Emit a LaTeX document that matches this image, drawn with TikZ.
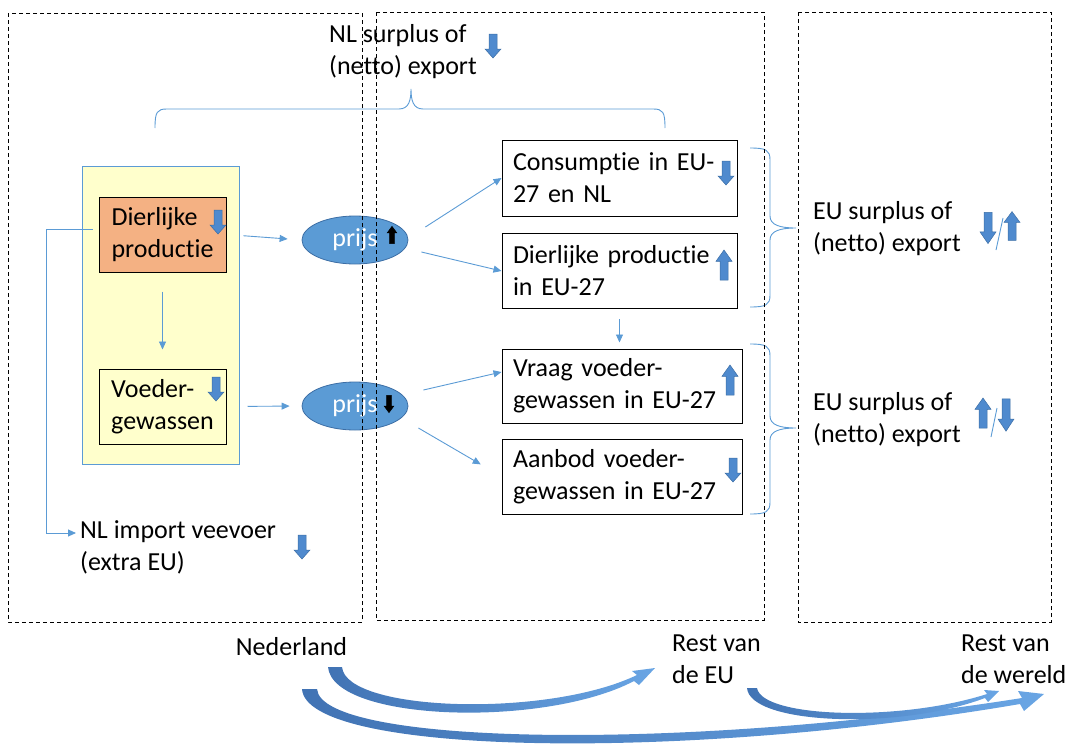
\documentclass[tikz,border=0pt]{standalone}
\usepackage{fontspec}
\setmainfont[Ligatures=NoCommon]{Carlito}
\usetikzlibrary{arrows.meta,shapes.geometric,calc}

\definecolor{lijnblauw}{RGB}{91,155,213}
\definecolor{pijlblauw}{RGB}{79,138,206}
\definecolor{pijlrand}{RGB}{60,110,165}
\definecolor{geel}{RGB}{255,255,204}
\definecolor{oranje}{RGB}{244,177,131}
\definecolor{boogdonker}{RGB}{65,115,180}
\definecolor{booglicht}{RGB}{105,165,228}

\tikzset{
  gebied/.style={draw=black, dash pattern=on 4pt off 3pt, line width=0.9pt},
  kader/.style={draw=black, line width=1pt, inner xsep=11pt, inner ysep=0pt, align=left},
  verbinding/.style={draw=lijnblauw, line width=0.9pt, -{Triangle[length=8pt,width=7pt]}},
  accolade/.style={draw=lijnblauw, line width=0.9pt},
  prijsbol/.style={ellipse, fill=lijnblauw, draw=pijlrand, line width=0.8pt, minimum width=106pt, minimum height=48pt, inner sep=0pt, text=white},
  tekst/.style={inner sep=0pt, align=left},
  icoon/.style={fill=pijlblauw, draw=pijlrand, line width=0.5pt},
  boog/.style={left color=boogdonker, right color=booglicht, draw=none}
}

% blokpijltjes
\newcommand{\pijlneer}[2][]{\filldraw[icoon, shift={#2}, #1] (-4,-12) -- (4,-12) -- (4,3) -- (8,3) -- (0,12) -- (-8,3) -- (-4,3) -- cycle;}
\newcommand{\pijlop}[2][]{\filldraw[icoon, shift={#2}, yscale=-1, #1] (-4,-12) -- (4,-12) -- (4,3) -- (8,3) -- (0,12) -- (-8,3) -- (-4,3) -- cycle;}

\begin{document}
\begin{tikzpicture}[x=1pt, y=-1pt, font=\fontsize{26}{32}\selectfont]
    \useasboundingbox (0,0) rectangle (1070,744);

    %Nederland
    \node[draw=lijnblauw, fill=geel, line width=1pt, minimum width=157pt, minimum height=298pt] (sector) at (160.5,315) {};
    \node[kader, fill=oranje, minimum width=127pt, minimum height=75pt] (dierlijk) at (162.5,234.5) {Dierlijke\\productie};
    \node[kader, fill=geel, minimum width=127pt, minimum height=75pt] (voeder) at (162.5,406.5) {Voeder-\\gewassen};
    \node[prijsbol] (prijs1) at (355,240) {prijs};
    \node[prijsbol] (prijs2) at (355,406) {prijs};
    \node[tekst, anchor=west] (nlimport) at (80,547) {NL import veevoer\\(extra EU)};
    \node[tekst, anchor=west] (nlsurplus) at (329,52) {NL surplus of\\(netto) export};

    %rest van de EU
    \node[kader, text width=213pt, minimum height=76pt] (consumptie) at (619.5,178) {Consumptie in EU-\\27 en NL};
    \node[kader, text width=213pt, minimum height=75pt] (dierlijkeu) at (619.5,271) {Dierlijke productie\\in EU-27};
    \node[kader, text width=218pt, minimum height=74pt] (vraag) at (622,386) {Vraag voeder-\\gewassen in EU-27};
    \node[kader, text width=218pt, minimum height=75pt] (aanbod) at (622,476.5) {Aanbod voeder-\\gewassen in EU-27};

    %wereld
    \node[tekst, anchor=west] (eusurplus1) at (813,229) {EU surplus of\\(netto) export};
    \node[tekst, anchor=west] (eusurplus2) at (813,420) {EU surplus of\\(netto) export};

    %onderschriften
    \node[tekst] (nederland) at (291.5,647) {Nederland};
    \node[tekst, anchor=west] (resteu) at (672,659) {Rest van\\de EU};
    \node[tekst, anchor=west] (restwereld) at (961,659) {Rest van\\de wereld};

    %pijltjes
    \pijlneer{(493,46)}
    \pijlneer{(218,222)}
    \pijlneer{(216,389)}
    \pijlneer{(302,547)}
    \pijlneer{(726,173)}
    \pijlop[yscale=1.25]{(724,265)}
    \pijlop[yscale=1.25]{(730,380)}
    \pijlneer{(733,470)}
    \pijlneer[yscale=1.3]{(988,228)}
    \pijlop[yscale=1.2]{(1012,226)}
    \pijlop[yscale=1.25]{(983,413)}
    \pijlneer[yscale=1.35]{(1006,415)}
    \pijlop[fill=black, draw=black, xscale=0.6, yscale=0.72]{(392,235)}
    \pijlneer[fill=black, draw=black, xscale=0.6, yscale=0.72]{(389,404)}
    \draw[accolade] (996,250) -- (1003,218);
    \draw[accolade] (991,437) -- (997,408);

    %verbindingen
    \draw[verbinding, shorten <=17pt, shorten >=14pt] (dierlijk.east) -- (prijs1.west);
    \draw[verbinding, shorten <=21pt, shorten >=12pt] (voeder.east) -- (prijs2.west);
    \draw[verbinding, shorten <=19pt, shorten >=19pt] (dierlijk.south) -- (voeder.north);
    \draw[verbinding] ([shift={(-6,-5)}]dierlijk.west) -- ++(-46,0) |- ([shift={(-4,-14)}]nlimport.west);
    \draw[verbinding] ([shift={(17,-13)}]prijs1.east) -- (consumptie.west);
    \draw[verbinding] ([shift={(13,12)}]prijs1.east) -- (dierlijkeu.west);
    \draw[verbinding] ([shift={(15,-16)}]prijs2.east) -- ([shift={(0,-14)}]vraag.west);
    \draw[verbinding, shorten >=24pt] ([shift={(10,22)}]prijs2.east) -- (aanbod.west);
    \draw[verbinding, shorten <=10pt, shorten >=6pt] (dierlijkeu.south) -- (dierlijkeu.south |- vraag.north);

    %accolades
    \draw[accolade] (155,128) .. controls (155,112) and (157,109) .. (167,109) -- (399,109) .. controls (409,109) and (411,100) .. (411,89) .. controls (411,100) and (413,109) .. (423,109) -- (653,109) .. controls (663,109) and (665,112) .. (665,128);
    \draw[accolade] (750,148) .. controls (766,148) and (770,150) .. (770,160) -- (770,216) .. controls (770,225) and (780,228) .. (796,228) .. controls (780,228) and (770,231) .. (770,240) -- (770,295) .. controls (770,305) and (766,307) .. (750,307);
    \draw[accolade] (750,344) .. controls (766,344) and (770,346) .. (770,356) -- (770,416) .. controls (770,425) and (780,428) .. (796,428) .. controls (780,428) and (770,431) .. (770,440) -- (770,502) .. controls (770,512) and (766,514) .. (750,514);

    %bogen
    \shade[boog] (328,667) .. controls (333,722) and (545,728) .. (634,681) -- (639,685) -- (655,668) -- (632,671) -- (637,675) .. controls (548,718) and (346,712) .. (342,667) -- cycle;
    \shade[boog] (302,689) .. controls (306,755) and (680,762) .. (1020,704) -- (1024,711) -- (1044,694) -- (1018,691) -- (1022,698) .. controls (680,752) and (321,745) .. (317,689) -- cycle;
    \shade[boog] (747,688) .. controls (750,725) and (900,730) .. (985,698) -- (988,702) -- (999,691) -- (984,690) -- (987,694) .. controls (900,722) and (762,718) .. (757,688) -- cycle;

    %gebieden
    \draw[gebied] (8,13) rectangle (362,622);
    \draw[gebied] (376,12) rectangle (764,620);
    \draw[gebied] (798,12) rectangle (1051,622);
\end{tikzpicture}
\end{document}
